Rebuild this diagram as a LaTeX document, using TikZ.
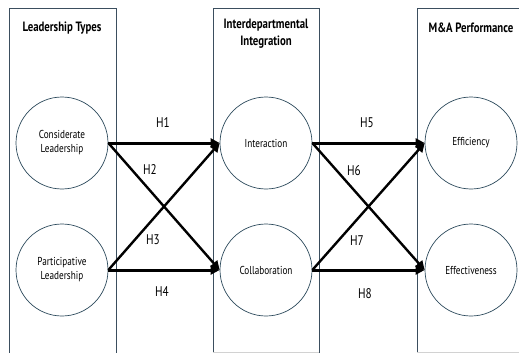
\documentclass[tikz,border=0pt]{standalone}
\usepackage{fontspec}
\setmainfont{PT Sans}[FakeStretch=0.8]
\usetikzlibrary{positioning,arrows.meta}
\definecolor{framecol}{HTML}{3B4E5E}
\definecolor{ringcol}{HTML}{2C4A5C}

\begin{document}
\begin{tikzpicture}[x=1pt,y=-1pt,
    construct/.style={draw=ringcol,line width=0.7pt,circle,minimum size=92pt,inner sep=0pt,align=center,font=\fontsize{11.5}{14}\selectfont},
    header/.style={font=\bfseries\fontsize{13.5}{17}\selectfont,align=center},
    hyp/.style={-{Triangle[length=9pt,width=9pt]},line width=3pt},
    cross/.style={-{Triangle[length=9pt,width=9pt]},line width=2.4pt},
    hlabel/.style={font=\fontsize{14}{16}\selectfont}]
    \useasboundingbox (0,0) rectangle (519,353);
    % columns
    \draw[framecol,line width=0.8pt] (9,353) -- (9,8) -- (116,8) -- (116,353);
    \draw[framecol,line width=0.8pt] (213,353) -- (213,8) -- (319,8) -- (319,353);
    \draw[framecol,line width=0.8pt] (417,353) -- (417,8) -- (530,8);
    \draw[gray!35,line width=0.8pt] (213,352) -- (319,352);
    \draw[gray!35,line width=0.8pt] (417,352) -- (519,352);
    % headers
    \node[header] (hLead) at (62,28) {Leadership Types};
    \node[header] (hInteg) at (266,34) {Interdepartmental\\Integration};
    \node[header] (hPerf) at (471,28) {M\&A Performance};
    % constructs
    \node[construct] (consid) at (62,143) {Considerate\\Leadership};
    \node[construct] (partic) at (62,270) {Participative\\Leadership};
    \node[construct] (inter) at (266,143) {Interaction};
    \node[construct] (collab) at (266,270) {Collaboration};
    \node[construct] (effic) at (471,143) {Efficiency};
    \node[construct] (effect) at (471,270) {Effectiveness};
    % paths
    \draw[hyp] (consid.east) -- (inter.west);
    \draw[hyp] (partic.east) -- (collab.west);
    \draw[cross] (consid.east) -- (collab.west);
    \draw[cross] (partic.east) -- (inter.west);
    \draw[hyp] (inter.east) -- (effic.west);
    \draw[hyp] (collab.east) -- (effect.west);
    \draw[cross] (inter.east) -- (effect.west);
    \draw[cross] (collab.east) -- (effic.west);
    % labels
    \node[hlabel] (h1) at (163,123) {H1};
    \node[hlabel] (h2) at (150,170) {H2};
    \node[hlabel] (h3) at (153,240) {H3};
    \node[hlabel] (h4) at (162,292) {H4};
    \node[hlabel] (h5) at (367,123) {H5};
    \node[hlabel] (h6) at (354,171) {H6};
    \node[hlabel] (h7) at (357,241) {H7};
    \node[hlabel] (h8) at (365,294) {H8};
\end{tikzpicture}
\end{document}
